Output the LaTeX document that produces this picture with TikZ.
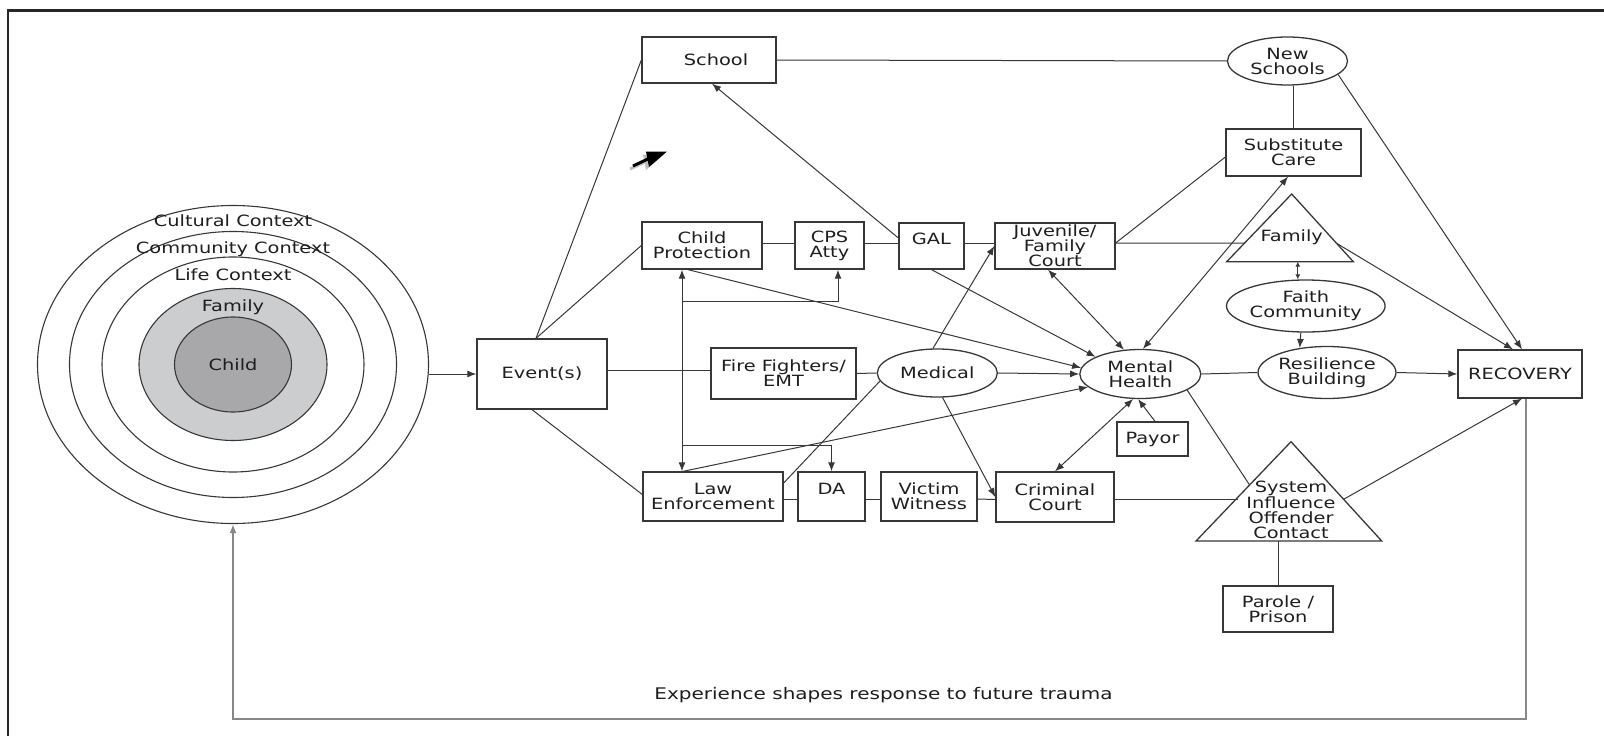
\documentclass[tikz,border=0pt]{standalone}
\usepackage{fontspec}
\setmainfont{DejaVu Sans}[FakeStretch=1.25]
\usetikzlibrary{shapes.geometric,arrows.meta,calc}
\definecolor{ink}{RGB}{30,30,30}
\definecolor{linec}{RGB}{55,55,55}
\definecolor{loopc}{RGB}{135,135,135}
\definecolor{famfill}{RGB}{204,205,207}
\definecolor{childfill}{RGB}{168,168,170}
\newcommand\nodefont{\fontsize{15.5}{15}\selectfont}
\begin{document}
\begin{tikzpicture}[x=1pt,y=-1pt,font=\nodefont,text=ink,
  box/.style={draw=linec,line width=1.3pt,rectangle,inner sep=0pt,align=center},
  oval/.style={draw=linec,line width=1.3pt,ellipse,inner sep=0pt,align=center},
  ring/.style={draw=linec,line width=1.1pt,ellipse,inner sep=0pt},
  link/.style={draw=linec,line width=1pt},
  arr/.style={link,-{Latex[length=9pt,width=7pt]}},
  dbl/.style={link,{Latex[length=9pt,width=7pt]}-{Latex[length=9pt,width=7pt]}},
  shortdbl/.style={link,{Latex[length=5pt,width=5pt]}-{Latex[length=5pt,width=5pt]}},
  loopline/.style={draw=loopc,line width=1.8pt,-{Latex[length=9pt,width=7pt]}},
  frameline/.style={draw=black!85,line width=2.4pt},
  tri/.style={draw=linec,line width=1.3pt,line join=miter}]
\useasboundingbox (0,0) rectangle (1604,736);

% outer frame
\draw[frameline] (8,736) -- (8,10.5) -- (1604,10.5);

% nested contexts around the child
\node[ring,minimum width=391pt,minimum height=318pt] (outer) at (233,364.5) {};
\node[ring,minimum width=327pt,minimum height=266pt] (community) at (233,364.5) {};
\node[ring,minimum width=262pt,minimum height=215pt] (life) at (233,364.5) {};
\node[ring,fill=famfill,minimum width=188pt,minimum height=152pt] (famring) at (233,364.5) {};
\node[ring,fill=childfill,minimum width=117pt,minimum height=95pt] (child) at (233,364.5) {Child};
\node (lblcult) at (233,221) {Cultural Context};
\node (lblcomm) at (233,249) {Community Context};
\node (lbllife) at (233,275) {Life Context};
\node (lblfam) at (233,307) {Family};

% boxes
\node[box,minimum width=134pt,minimum height=46pt] (school) at (709,60) {\hspace*{14pt}School};
\node[box,minimum width=120pt,minimum height=47pt] (cp) at (702,245.5) {Child\\Protection};
\node[box,minimum width=69pt,minimum height=47pt] (cps) at (829.5,245.5) {CPS\\Atty};
\node[box,minimum width=65pt,minimum height=46pt] (gal) at (931.5,246) {GAL\\~};
\node[box,minimum width=120pt,minimum height=46pt] (jfc) at (1055,246) {Juvenile/\\Family\\Court};
\node[box,minimum width=135pt,minimum height=47pt] (subcare) at (1293.5,152.5) {Substitute\\Care};
\node[box,minimum width=130pt,minimum height=70pt] (event) at (542,374) {Event(s)};
\node[box,minimum width=145pt,minimum height=51pt] (ff) at (783.5,373.5) {Fire Fighters/\\EMT};
\node[box,minimum width=140pt,minimum height=49pt] (le) at (713,496.5) {Law\\Enforcement};
\node[box,minimum width=67pt,minimum height=49pt] (da) at (831.5,496.5) {DA\\~};
\node[box,minimum width=96pt,minimum height=49pt] (vw) at (929,496.5) {Victim\\Witness};
\node[box,minimum width=118pt,minimum height=50pt] (cc) at (1055,497) {Criminal\\Court};
\node[box,minimum width=71pt,minimum height=34pt] (payor) at (1152.5,439) {Payor};
\node[box,minimum width=110pt,minimum height=46pt] (parole) at (1278,609) {Parole /\\Prison};
\node[box,minimum width=124pt,minimum height=48pt] (rec) at (1520,374) {RECOVERY};

% ovals
\node[oval,minimum width=120pt,minimum height=48pt] (medical) at (937.3,373) {Medical};
\node[oval,minimum width=121pt,minimum height=49pt] (mh) at (1140.3,374) {Mental\\Health};
\node[oval,minimum width=120pt,minimum height=48pt] (newsch) at (1287.5,61) {New\\Schools};
\node[oval,minimum width=128pt,minimum height=52pt] (faith) at (1305.8,306) {Faith\\Community};
\node[oval,minimum width=126pt,minimum height=52pt] (resil) at (1327,372.5) {Resilience\\Building};

% triangles
\coordinate (famTop) at (1291.7,194);
\coordinate (famBL) at (1226.7,261.7);
\coordinate (famBR) at (1353.3,261.7);
\draw[tri] (famTop) -- (famBL) -- (famBR) -- cycle;
\node (famtext) at (1291.7,237.3) {Family};

\coordinate (sysTop) at (1291,441.7);
\coordinate (sysBL) at (1196,541);
\coordinate (sysBR) at (1381.7,541);
\draw[tri] (sysTop) -- (sysBL) -- (sysBR) -- cycle;
\node[align=center] (systext) at (1291,509.8) {System\\Influence\\Offender\\Contact};

\coordinate (famL) at ($(famBL)!0.276!(famTop)$);
\coordinate (famR) at ($(famBR)!0.272!(famTop)$);
\coordinate (sysMH) at ($(sysBL)!0.564!(sysTop)$);
\coordinate (sysCC) at ($(sysBL)!0.443!(sysTop)$);
\coordinate (sysR) at ($(sysBR)!0.42!(sysTop)$);

% connectors from the child and the event
\draw[arr] (event.west -| outer.east) -- (event.west);
\draw[link] ([xshift=-6pt]event.north) -- (school.west);
\draw[link] ([xshift=-6pt]event.north) -- (cp.west);
\draw[link] ([yshift=3.5pt]event.east) -- ([yshift=3.5pt]event.east -| ff.west);
\draw[link] ([xshift=-10pt]event.south) -- ([yshift=2pt]le.west);

% upper row
\draw[link] (school.east) -- (newsch.west);
\draw[arr] ([yshift=8pt]gal.west) -- ([xshift=3pt]school.south);
\draw[link] ([yshift=2.5pt]cp.east) -- ([yshift=2.5pt]cps.west);
\draw[link] ([yshift=2.5pt]cps.east) -- ([yshift=3pt]gal.west);
\draw[link] ([yshift=3pt]gal.east) -- ([yshift=3pt]jfc.west);

% child protection / law enforcement links
\draw[dbl] ([xshift=-20pt]cp.south) -- ([xshift=-20pt]cp.south |- le.north);
\draw[arr] ($([xshift=-20pt]cp.south)+(0,32)$) -| ([xshift=8.5pt]cps.south);
\draw[arr] ($([xshift=-20pt]cp.south |- le.north)+(0,-26)$) -| (da.north);
\draw[arr] ([xshift=-14pt]cp.south) -- (mh.174);
\draw[arr] ([xshift=-30pt]le.north) -- (mh.194);
\draw[link] ([yshift=13.5pt]le.east) -- (medical.188);

% middle row
\draw[link] (ff.east) -- (medical.west);
\draw[arr] (medical.east) -- (mh.west);
\draw[arr] (medical.100) -- (jfc.west);
\draw[arr] (medical.282) -- (cc.west);
\draw[arr] (gal.south) -- (mh.159);
\draw[dbl] ([xshift=-7pt]jfc.south) -- (mh.124);
\draw[dbl] (mh.84) -- ([xshift=-5.5pt]subcare.south);
\draw[arr] ([xshift=2.5pt]payor.north) -- (mh.265);
\draw[dbl] (cc.north) -- (mh.254);
\draw[link] (mh.east) -- (resil.west);
\draw[link] (mh.341) -- (sysMH);

% lower row
\draw[link] ([yshift=-2.5pt]le.east) -- ([yshift=-2.5pt]da.west);
\draw[link] ([yshift=-2.5pt]da.east) -- ([yshift=-2.5pt]vw.west);
\draw[link] ([yshift=-2.5pt]vw.east) -- ([yshift=-2.5pt]cc.west);
\draw[link] ([yshift=-2pt]cc.east) -- ([yshift=-2pt]cc.east -| sysCC);
\draw[link] (parole.north) -- (parole.north |- sysBL);

% right side
\draw[link] ([yshift=3pt]jfc.east) -- ([yshift=-4.5pt]subcare.west);
\draw[link] ([yshift=3pt]jfc.east) -- (famL);
\draw[link] (subcare.north) -- (subcare.north |- newsch.south);
\draw[arr] (newsch.345) -- ([xshift=2pt]rec.north);
\draw[arr] (famR) -- ([xshift=-7pt]rec.north);
\draw[shortdbl] ([xshift=-8pt]faith.north) -- ([xshift=-8pt]faith.north |- famBL);
\draw[arr] ([xshift=-5pt]faith.south) -- (resil.138);
\draw[arr] (resil.east) -- (rec.west);
\draw[arr] (sysR) -- ([xshift=2pt]rec.south);

% feedback loop back to the child
\draw[loopline] ([xshift=6pt]rec.south) -- ++(0,320) -| (outer.south);
\node[font=\fontsize{16}{16}\selectfont] (caption) at (883.5,694.6) {Experience shapes response to future trauma};

% pointer glyph
\fill[black!25] (643,154.5) -- (664,154.5) -- (646,170) -- cycle;
\draw[black!25,line width=3pt] (630,169) -- (647,161);
\fill[black] (646,151.5) -- (667,151.5) -- (649,167) -- cycle;
\draw[black,line width=3pt] (633,166) -- (650,158);
\end{tikzpicture}
\end{document}
